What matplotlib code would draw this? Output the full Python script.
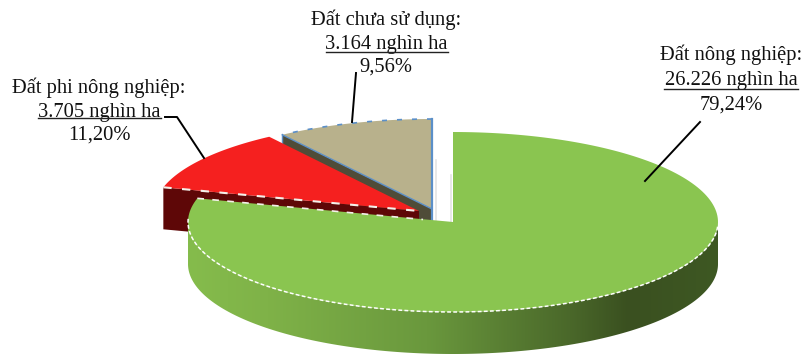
import numpy as np
import matplotlib
matplotlib.use('Agg')
import matplotlib.pyplot as plt
from matplotlib.patches import Polygon

plt.rcParams['font.family'] = ['Liberation Serif', 'DejaVu Serif']

names = ['Đất nông nghiệp:', 'Đất phi nông nghiệp:', 'Đất chưa sử dụng:']
areas = ['26.226 nghìn ha', '3.705 nghìn ha', '3.164 nghìn ha']
percents = [79.24, 11.20, 9.56]
percent_labels = ['79,24%', '11,20%', '9,56%']

top_colors = ['#8AC550', '#F5201F', '#B8B18C']
side_colors = ['#3C5522', '#5E0707', '#4F4C38']

# exploded centers and pie size in pixels
centers = [(453, 222), (419, 211), (432, 209)]
rx, ry = 265, 90
depth = 42


def arc(center, a0, a1, n=200):
    t = np.radians(np.linspace(a0, a1, n))
    return np.column_stack([center[0] + rx * np.cos(t), center[1] - ry * np.sin(t)])


def wedge(center, a0, a1):
    return np.vstack([[center], arc(center, a0, a1)])


fig = plt.figure(figsize=(8.05, 3.55), dpi=100)
ax = fig.add_axes([0, 0, 1, 1])
ax.set_xlim(0, 805)
ax.set_ylim(355, 0)
ax.axis('off')

# slice angles, clockwise from 12 o'clock
starts = []
ends = []
a = 90.0
for p in percents:
    starts.append(a)
    a = a - p * 3.6
    ends.append(a)

# faint shadows in the gap
ax.plot([435.5, 435.5], [160, 220], color='#e4e4e4', lw=1.2, zorder=1)
ax.plot([450.5, 450.5], [175, 222], color='#e4e4e4', lw=1.2, zorder=1)

# back slices first: tan, then red
for i, z in [(2, 2), (1, 4)]:
    c = centers[i]
    a0 = starts[i]
    a1 = ends[i]
    # cut face running from the rim to the apex, on the clockwise-first side
    rim = arc(c, a0, a0, 1)[0]
    face = [rim, c, (c[0], c[1] + depth), (rim[0], rim[1] + depth)]
    ax.add_patch(Polygon(face, closed=True, fc=side_colors[i], ec='none', zorder=z))
    ax.add_patch(Polygon(wedge(c, a1, a0), closed=True, fc=top_colors[i], ec='none', zorder=z + 1))

# tan slice outline
c = centers[2]
rim_pts = arc(c, ends[2], starts[2])
ax.plot(rim_pts[:, 0], rim_pts[:, 1], color='#5B8FC8', lw=1.2, ls=(0, (3, 6)), zorder=3.5)
ax.plot([c[0], c[0]], [c[1] - ry, c[1] + 12], color='#5B8FC8', lw=1.6, zorder=3.5)
rim = arc(c, starts[2], starts[2], 1)[0]
ax.plot([rim[0], c[0]], [rim[1], c[1]], color='#5B8FC8', lw=1.0, zorder=3.5)
ax.plot([rim[0], rim[0]], [rim[1], rim[1] + 9], color='#5B8FC8', lw=1.0, zorder=3.5)

# red slice dashed lower edge
c = centers[1]
rim = arc(c, starts[1], starts[1], 1)[0]
ax.plot([rim[0], c[0]], [rim[1], c[1]], color='#f4f0ea', lw=1.5, ls=(0, (4, 5)), zorder=5.5)

# green slice wall with a gradient clipped to the rim band
c = centers[0]
front = arc(c, 180, 360, 300)
wall_pts = np.vstack([front, (front + [0, depth])[::-1]])
wall = Polygon(wall_pts, closed=True, fc='none', ec='none', zorder=6)
ax.add_patch(wall)
stops_x = [0.0, 0.15, 0.45, 0.72, 0.83, 1.0]
stops_r = [0x85, 0x7F, 0x6A, 0x4A, 0x3A, 0x3E]
stops_g = [0xBC, 0xB2, 0x98, 0x68, 0x50, 0x58]
stops_b = [0x4C, 0x48, 0x3D, 0x2A, 0x20, 0x23]
u = np.linspace(0, 1, 400)
grad = np.column_stack([np.interp(u, stops_x, stops_r),
                        np.interp(u, stops_x, stops_g),
                        np.interp(u, stops_x, stops_b)]) / 255.0
im = ax.imshow(grad[np.newaxis, :, :], extent=[c[0] - rx, c[0] + rx, 355, 200],
               aspect='auto', zorder=6, interpolation='bilinear')
im.set_clip_path(wall)
ax.set_xlim(0, 805)
ax.set_ylim(355, 0)

# green top
ax.add_patch(Polygon(wedge(c, ends[0], starts[0]), closed=True, fc=top_colors[0], ec='none', zorder=7))

# white dashes on the green edge
rim_pts = arc(c, 178, 358, 300)
ax.plot(rim_pts[:, 0], rim_pts[:, 1], color='white', lw=1.1, ls=(0, (2.5, 1.5)), zorder=8)
rim = arc(c, ends[0], ends[0], 1)[0]
ax.plot([rim[0], c[0] - 30], [rim[1], c[1] - 2.5], color='#f4f0ea', lw=1.2, ls=(0, (4, 5)), zorder=8)

# labels
fs = 14.8
label_pos = [(731, [55, 80, 105]), (99, [88, 112, 135]), (386, [20, 45, 67])]
rules = [(664, 798, 89), (38, 161, 118), (326, 448, 52)]
for i in range(3):
    x, ys = label_pos[i]
    ax.text(x, ys[0], names[i], ha='center', va='center', fontsize=fs, color='#111111')
    ax.text(x, ys[1], areas[i], ha='center', va='center', fontsize=fs, color='#111111')
    ax.text(x, ys[2], percent_labels[i], ha='center', va='center', fontsize=fs, color='#111111')
    ax.plot(rules[i][:2], [rules[i][2]] * 2, color='#222222', lw=1.0, zorder=9)

# leader lines
ax.plot([700, 645], [122, 181], color='black', lw=1.4, zorder=9)
ax.plot([356, 352], [73, 122], color='black', lw=1.4, zorder=9)
ax.plot([165, 177, 204], [117, 117, 158], color='black', lw=1.4, zorder=9)

fig.savefig('out.png', dpi=100)
